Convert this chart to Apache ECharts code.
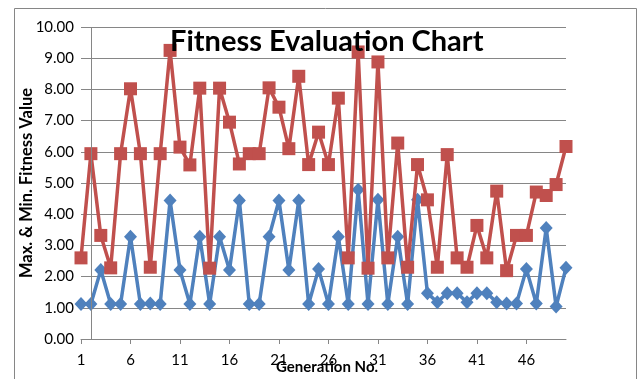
<!DOCTYPE html>
<html>
<head>
<meta charset="utf-8">
<script src="https://cdn.jsdelivr.net/npm/echarts@6/dist/echarts.min.js"></script>
<style>
html,body{margin:0;padding:0;background:#fff;}
#chart{width:639px;height:379px;}
</style>
</head>
<body>
<div id="chart"></div>
<script>
var generations = [];
for (var g = 1; g <= 50; g++) generations.push(String(g));

var minFitness = [1.12,1.12,2.21,1.12,1.12,3.28,1.12,1.14,1.12,4.44,
  2.21,1.12,3.28,1.12,3.28,2.21,4.44,1.12,1.12,3.28,
  4.44,2.21,4.44,1.12,2.24,1.12,3.28,1.12,4.78,1.12,
  4.46,1.12,3.28,1.12,4.46,1.47,1.18,1.47,1.47,1.18,
  1.47,1.47,1.18,1.14,1.14,2.24,1.14,3.56,1.04,2.28];

var maxFitness = [2.6,5.94,3.32,2.28,5.94,8.02,5.94,2.3,5.94,9.25,
  6.15,5.58,8.04,2.27,8.04,6.95,5.61,5.94,5.94,8.05,
  7.43,6.1,8.42,5.59,6.63,5.59,7.72,2.6,9.2,2.27,
  8.88,2.6,6.28,2.3,5.59,4.46,2.3,5.91,2.6,2.3,
  3.64,2.6,4.74,2.19,3.32,3.32,4.71,4.6,4.95,6.17];

var yAxisCrossCategory = '2';

var FONT = 'Lato, "Open Sans", "Noto Sans", sans-serif';
var chart = echarts.init(document.getElementById('chart'), null, {renderer: 'canvas'});
chart.setOption({
  animation: false,
  backgroundColor: '#ffffff',
  title: {
    text: 'Fitness Evaluation Chart',
    left: 165,
    top: 22,
    textStyle: {fontFamily: FONT, fontSize: 29, fontWeight: 'bold', color: '#000'}
  },
  graphic: [{
    type: 'rect',
    shape: {x: 14.5, y: 8.5, width: 622, height: 400},
    style: {fill: 'none', stroke: '#868686', lineWidth: 1},
    silent: true, z: -10
  }],
  grid: {left: 81, right: 73, top: 27, bottom: 40, containLabel: false, outerBoundsMode: 'none'},
  xAxis: {
    type: 'category',
    data: generations,
    boundaryGap: false,
    name: 'Generation No.',
    nameLocation: 'middle',
    nameGap: 21,
    nameMoveOverlap: false,
    nameTextStyle: {fontFamily: FONT, fontSize: 15, fontWeight: 'bold', color: '#000', padding: [0, 0, 0, 7]},
    axisLine: {show: true, lineStyle: {color: '#868686', width: 1}},
    axisTick: {show: true, interval: 4, length: 5, lineStyle: {color: '#868686'}},
    axisLabel: {interval: 4, margin: 14, fontFamily: FONT, fontSize: 15, color: '#000'},
    splitLine: {show: false}
  },
  yAxis: {
    type: 'value',
    min: 0, max: 10, interval: 1,
    name: 'Max. & Min. Fitness Value',
    nameLocation: 'middle',
    nameGap: 46,
    nameMoveOverlap: false,
    nameTextStyle: {fontFamily: FONT, fontSize: 16.5, fontWeight: 'bold', color: '#000'},
    axisLine: {show: false},
    axisTick: {show: false},
    axisLabel: {margin: 7, fontFamily: FONT, fontSize: 15, color: '#000',
      formatter: function (v) { return v.toFixed(2); }},
    splitLine: {show: true, lineStyle: {color: '#868686', width: 1}}
  },
  series: [{
    name: 'Min',
    type: 'line',
    data: minFitness,
    symbol: 'diamond',
    symbolSize: [13, 14],
    showAllSymbol: true,
    lineStyle: {color: '#4F81BD', width: 3.5},
    itemStyle: {color: '#4F81BD'},
    markLine: {
      silent: true, symbol: 'none', label: {show: false},
      lineStyle: {color: '#868686', width: 1, type: 'solid'},
      data: [{xAxis: yAxisCrossCategory}]
    },
    z: 2
  }, {
    name: 'Max',
    type: 'line',
    data: maxFitness,
    symbol: 'rect',
    symbolSize: 13,
    showAllSymbol: true,
    lineStyle: {color: '#C0504D', width: 3.5},
    itemStyle: {color: '#C0504D'},
    z: 3
  }]
});
</script>
</body>
</html>
